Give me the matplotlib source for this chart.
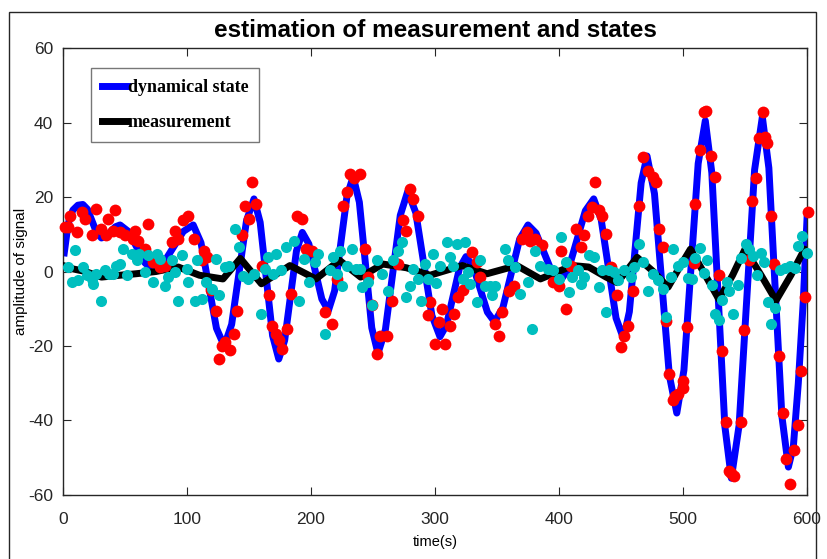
import matplotlib
matplotlib.use("Agg")
import matplotlib.pyplot as plt
from matplotlib import font_manager
from matplotlib.patches import Rectangle

plt.rcParams["axes.unicode_minus"] = False

# pick a narrow sans if one exists, else plain Liberation Sans
names = set(f.name for f in font_manager.fontManager.ttflist)
narrow = "Liberation Sans Narrow" if "Liberation Sans Narrow" in names else "Liberation Sans"

# dynamical state (blue line)
state_t = [1, 3, 5, 8, 12, 16, 19.75, 23.5, 27.25, 31, 34.75, 38.5, 42.25, 46,
           52.75, 59.5, 66.25, 73, 81, 89, 97, 105, 111.25, 117.5, 123.75, 130,
           136, 142, 148, 154, 159, 164, 169, 174, 178.75, 183.5, 188.25, 193,
           198.25, 203.5, 208.75, 214, 219, 224, 229, 234, 239, 244, 249, 254,
           260, 266, 272, 278, 284.5, 291, 297.5, 304, 309.25, 314.5, 319.75, 325,
           330.75, 336.5, 342.25, 348, 354.75, 361.5, 368.25, 375, 381.5, 388, 394.5, 401,
           407.75, 414.5, 421.25, 428, 434, 440, 446, 452, 456.75, 461.5, 466.25, 471,
           477, 483, 489, 495, 500.75, 506.5, 512.25, 518, 523.25, 528.5, 533.75, 539,
           545.25, 551.5, 557.75, 564, 569.25, 574.5, 579.75, 585, 589, 593, 597, 600]
state_y = [5, 10, 14, 16.5, 17.8, 18, 16.7, 13.5, 10.3, 9, 9.5, 10.75, 12, 12.5,
           10.75, 6.5, 2.25, 0.5, 2.25, 6.5, 10.75, 12.5, 7.75, -3.75, -15.25, -20,
           -14.2, -0.25, 13.7, 19.5, 13.2, -2, -17.2, -23.5, -18.5, -6.5, 5.5, 10.5,
           7.4, 0, -7.4, -10.5, -5.25, 7.5, 20.2, 25.5, 18.6, 1.75, -15.1, -22,
           -15.6, -0.25, 15.1, 21.5, 15.8, 2, -11.8, -17.5, -14.4, -6.75, 0.9, 4,
           1.4, -4.75, -10.9, -13.5, -9.7, -0.5, 8.7, 12.5, 10.3, 5, -0.3, -2.5,
           0.7, 8.5, 16.3, 19.5, 14, 0.75, -12.5, -18, -10.8, 6.5, 23.8, 31,
           20.9, -3.5, -27.9, -38, -26.5, 1.25, 29, 40.5, 26.5, -7.5, -41.5, -55.5,
           -41.3, -7, 27.3, 41.5, 27.8, -5.5, -38.8, -52.5, -47, -30, -8, 14]

# measurement (black line)
meas_t = [1, 8, 18, 31, 46, 59, 75, 93, 110, 129, 143, 160, 183, 204, 223, 240,
          258, 277, 296, 322, 342, 366, 385, 398, 411, 424, 438, 447, 463, 476,
          488, 497, 506, 518, 529, 540, 550, 563, 575, 587, 598, 600]
meas_y = [1.5, 0.7, 0, -1.5, -1, -0.6, 0, 1.2, -1, -2, 3.5, -3.3, 1.6, -2, 3, -1.5,
          2, 1, -1, 1.6, -0.6, 1.6, -2, -0.2, 1.6, 1.2, -1.5, -3, 3.8, 0,
          -4.2, 1, 6, -1, -7.5, -1, 6, -1, -7.8, -1, 6, 5.5]

# red points
red_t = [1.6, 4.3, 5.6, 11, 15, 17.7, 23, 27, 31, 35, 36.5, 40.6, 42, 46, 50, 56.7,
         58, 60.7, 66, 68.8, 72.8, 78, 82, 87.6, 90.3, 93, 97, 101,
         105.6, 112, 113.7, 116, 119, 123, 125.8, 128.5, 131, 135, 138, 140.6,
         144.6, 147, 150, 152.7, 155.4, 160.7, 166, 168.8, 171.5, 174, 177, 181,
         183.6, 189, 193, 195.7, 201,
         211, 216.7, 220.7, 226, 229, 231.5, 235, 239.5, 243.5, 246, 249, 253,
         255.6, 261, 265, 270.4, 274.4, 277, 280, 282.5, 286.5, 294.6, 296,
         300, 303, 305.6, 308, 312, 315, 318.8, 322.5, 330, 334, 336.5, 348.7,
         351.3, 354, 359.4, 363.5, 370, 374, 377, 381, 386, 395.4,
         400, 401.6, 405.6, 409.7, 413.7, 417.7, 420.4, 423, 427, 429, 432.5, 435,
         438, 442, 447, 450, 452.7, 455.4, 459.4, 464.8, 468, 471.5, 475.5, 478,
         480.4, 483.6, 486.3, 489, 491.7, 493.5, 495.7, 499.8,
         500.3, 503, 508.5, 510, 513.4, 516.6, 518.5, 522.6, 525.6, 529, 531.6,
         534.4, 537, 539, 541, 546.6, 549.4, 553.5, 556, 559, 561.6, 564.4, 566,
         568, 570.6, 573.3, 577.4, 580.6, 583.4, 586, 589.7, 592.4, 595, 598.4, 600.5]
red_y = [11.9, 11.9, 15, 10.6, 16, 14.1, 9.7, 16.8, 11.5, 9.7, 14.1, 11, 16.4, 10.6, 9.7, 8.8,
         11, 8.3, 6.1, 12.8, 2.5, 1.2, 1.6, 7.9, 11, 8.8, 13.7, 15,
         8.8, 3, 5.6, 3.8, -5, -10.5, -23.4, -19.9, -19, -21.2, -16.7, -10.5,
         9.7, 17.7, 14.1, 24, 18.2, 1.6, -6.4, -14.5, -16.7, -18.5, -20.8, -15.4,
         -6, 15, 14.1, 6.1, 5.6,
         -10.9, -14, -2, 17.7, 21.3, 26.2, 25, 26.2, 6.1, -1.5, -9.1, -22.1,
         -17.2, -17.2, -7.8, 2, 13.7, 11, 22.2, 19.5, 15, -11.8, -8.2,
         -19.4, -13.6, -10, -19.4, -14.5, -11.4, -6.9, -5, 5.2, 2.5, -1.5, -14,
         -17.2, -10.9, -5.1, -3.8, 8.8, 10.6, 8.3, 8.8, 7, -2.9,
         -3.8, 5.6, -10, 1.6, 11.5, 6.5, 9.7, 15, 17.3, 24, 16.4, 15,
         10, 1.2, -6.4, -20.3, -17.2, -14.5, -5.1, 17.7, 30.7, 27.1, 25.3, 24,
         11.5, 6.5, -13.2, -27.5, -34.6, -33.5, -32.8, -29.3,
         -31.2, -15, 2.3, 18.2, 32.7, 42.7, 43, 30.9, 25.4, -0.9, -21.3,
         -40.3, -53.5, -54, -54.8, -40.3, -15.8, 3.2, 19, 25, 35.9, 42.7, 36,
         34.5, 15, 1.9, -22.6, -38, -50.3, -57.1, -48, -41.2, -26.7, -6.8, 15.9]

# cyan points
cyan_t = [4.3, 7, 9.7, 12.3, 16.4, 19, 23, 24.5, 27, 31, 34, 36.8, 40.6, 43, 46, 48.6,
          51.4, 55.4, 59.4, 61, 66, 68.8, 72.8, 75.6, 78, 82, 85, 87.6, 90.3, 93, 95.7,
          99.8, 101,
          106.5, 108, 112, 115.5, 120, 123.5, 126, 131, 134, 138.5, 141.7, 145, 149.5,
          153.8, 160, 163, 165.2, 169.2, 171.8, 176, 180, 186.6, 190, 194, 198.7, 203,
          206, 211, 215, 218, 220.7, 223.4, 224.8, 228.8, 232.8, 236, 239.5, 241,
          246.2, 249, 253, 257, 262.4, 266.4, 270.4, 273, 277, 280, 282.5, 286.5, 289,
          292, 294.6, 298.6,
          301, 304, 309.4, 312, 314.8, 317.5, 322.8, 324, 326.9, 328, 333.6, 336.3,
          340.3, 344.4, 345.7, 348, 356.5, 359, 364.5, 368.5, 375, 378, 380.6, 384.7,
          391, 395.4,
          400, 401.6, 405.6, 408, 410.6, 415, 417.7, 420.4, 424.4, 428.5, 432.5, 435,
          438, 440.7, 444.6, 447.3, 452.7, 458, 460.7, 464.8, 467.5, 471.5, 475.5,
          479.6, 483.6, 486.3, 490.3, 491.7, 495.7, 499.8,
          504.4, 507, 510, 514, 516.6, 519.4, 523.5, 526.2, 529, 531.6, 535.7, 537,
          540.6, 544, 546.6, 550.7, 553.5, 556.1, 559.7, 563, 565.6, 568.4, 571.1,
          573.9, 578, 582, 586, 590, 593, 595.6, 599.7]
cyan_y = [1.2, -2.9, 5.9, -2.4, 1.2, -1, -2, -3.3, -0.6, -7.8, 0.3, -0.6, -0.6, 1.6, 1.9, 6.1,
          -1, 4.7, 3, 4.7, -0.2, 4.3, -2.9, 4.7, 3.4, -3.8, -1.5, 3, -0.2, -7.8, 4.3,
          0.7, -2.9,
          -7.8, 3, -7.3, -2.9, -4.7, 3.4, -6.4, 1.2, 1.6, 11.4, 6.5, -1.2, -2,
          -0.8, -11.4, 0.7, 3.8, -0.6, 4.7, 0.5, 6.5, 8.3, -7.8, 3.4, -2.9, 2.5,
          4.7, -16.7, 0.3, 3.8, -0.6, 5.6, -3.8, 1.6, 6.1, 0.7, 0.7, -4.2,
          -2.9, -9.1, 3, -0.6, -5.1, 3, 5.6, 7.9, -6.9, -3.8, 0.7, -2, -7.8,
          2, -2, 4.7,
          -3, 1.6, 7.9, 3.8, 1.6, 7.4, -2, 7.9, -0.2, -3.3, -8.2, 3,
          -3.8, -3.8, -6.4, -3.8, 6.1, 3, 1.2, -6, -2.9, -15.4, 5.6, 1.6,
          0.7, 0.3,
          -2, 9.2, 2.5, -5.6, -1.5, 0.3, -3.3, -1.5, 4.3, 3.8, -4.2, 0.3,
          -10.9, 0.3, -0.2, -2.4, 0.3, -1.5, 1.2, 7.4, 2.5, -5.1, -0.6,
          -2.4, -4.6, -12.3, -1.5, 6.1, 1.6, 2.5,
          -1.8, -2, 3.7, 6.4, -0.4, 3.2, -3.6, -11.3, -13.1, -7.7, -2.7, -5.3,
          -11.3, -3.6, 3.7, 7.3, 6.1, 4.1, -0.9, 5, 2.5, -8.1, -14,
          -9.9, 0.5, 0.9, 1.4, 0.9, 6.8, 9.6, 5]

fig = plt.figure(figsize=(8.27, 5.59), dpi=100)
ax = fig.add_axes([0.0762, 0.1145, 0.8996, 0.7996])

# outer frame of the figure
fig.patches.append(Rectangle((9 / 827, -0.01), 807 / 827, 1 - 12 / 559 + 0.01,
                             transform=fig.transFigure, fill=False,
                             edgecolor="#262626", linewidth=1))

ax.plot(state_t, state_y, color="#0000ff", linewidth=5, label="dynamical state",
        solid_joinstyle="round", zorder=2)
ax.plot(meas_t, meas_y, color="black", linewidth=5, label="measurement",
        solid_joinstyle="round", zorder=3)
ax.plot(red_t, red_y, "o", color="#ff0000", markersize=8.5, markeredgewidth=0,
        clip_on=False, zorder=4)
ax.plot(cyan_t, cyan_y, "o", color="#00bfbf", markersize=8, markeredgewidth=0,
        clip_on=False, zorder=5)

ax.set_xlim(0, 600)
ax.set_ylim(-60, 60)
ax.set_xticks(range(0, 601, 100))
ax.set_yticks(range(-60, 61, 20))
ax.tick_params(direction="in", length=6, width=0.8, top=True, right=True,
               labelsize=12.5, colors="#262626")
ax.tick_params(axis="x", pad=12)
ax.tick_params(axis="y", pad=7)
for lab in ax.get_xticklabels() + ax.get_yticklabels():
    lab.set_family(narrow)
for s in ax.spines.values():
    s.set_color("#262626")
    s.set_linewidth(1)

ax.set_title("estimation of measurement and states", fontsize=17.5,
             fontweight="bold", family=narrow, pad=8)
ax.set_xlabel("time(s)", fontsize=10.5, family=narrow, labelpad=6)
ax.set_ylabel("amplitude of signal", fontsize=11, family="Liberation Sans")
ax.yaxis.set_label_coords(-0.047, 0.5)

leg = ax.legend(loc="upper left", bbox_to_anchor=(0.0376, 0.955), borderaxespad=0,
                prop={"family": "Liberation Serif", "weight": "bold", "size": 13},
                handlelength=1.4, handletextpad=0.05, borderpad=0.6,
                labelspacing=1.0, fancybox=False, framealpha=1)
leg.get_frame().set_edgecolor("#777777")
leg.get_frame().set_linewidth(1)

fig.savefig("out.png", dpi=100)
